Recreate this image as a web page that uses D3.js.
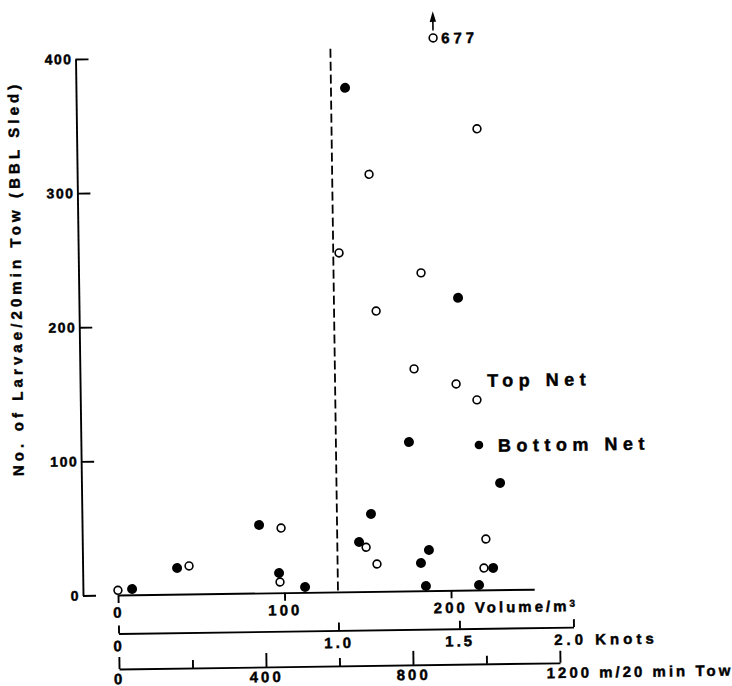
<!DOCTYPE html>
<html><head><meta charset="utf-8">
<script src="https://cdn.jsdelivr.net/npm/d3@7"></script>
<style>
html,body{margin:0;padding:0;background:#fff;}
svg{display:block;}
text{font-family:"Liberation Sans",Arial,Helvetica,sans-serif;font-weight:bold;fill:#000;stroke:#000;stroke-width:0.45px;}
</style></head><body>
<svg id="chart" width="732" height="686"></svg>
<script>
// ---- data ----
const larvaeTicks = [0, 100, 200, 300, 400];
const volumeTicks = [0, 100, 200];
const knotTicks = [0, 1.0, 1.5, 2.0];
const distanceTicks = [0, 200, 400, 600, 800, 1000, 1200];
const distanceLabelled = [0, 400, 800, 1200];
const topNetVolume = [0, 42.9, 98.5, 97.4, 135.6, 154.3, 157.4, 149.4, 155.8, 184.7, 179.7, 204.8, 217.2, 219.5, 221.4, 220];
const topNetLarvae = [3.5, 20.9, 48.2, 8, 252.7, 311, 209, 33, 20.4, 237, 165.5, 153.8, 141.7, 343.8, 37.9, 16.3];
const bottomNetVolume = [8.5, 35.7, 85.3, 96.9, 112.4, 140.6, 152.6, 145.2, 176, 206.7, 230.4, 187.1, 182.2, 185, 216.9, 225.5];
const bottomNetLarvae = [4.3, 19.5, 50.7, 14.7, 4, 375.7, 57.8, 37, 111, 218, 79.6, 30.3, 20.7, 3.5, 3.7, 16.3];
const offScaleVolume = [193.9];
const offScaleLarvae = [677];
const offScaleShownAt = 412;
const thresholdKnots = 1.0;
const legendLabels = ["Top Net", "Bottom Net"];
const yTitle = "No. of Larvae/20min Tow (BBL Sled)";

// ---- layout ----
const svg = d3.select("#chart");
const g = svg.append("g").attr("transform", "rotate(-0.8,118,595)");

const y = d3.scaleLinear().domain([0, 400]).range([595, 58.5]);
const x = d3.scaleLinear().domain([0, 250]).range([118, 534.25]);
const kn = d3.scaleLinear().domain([0, 1, 1.5, 2]).range([118, 338, 459, 573]);
const dist = d3.scaleLinear().domain([0, 1200]).range([118, 559]);

function styleAxis(sel, size, spacing) {
  sel.attr("font-family", null).attr("font-size", null);
  sel.selectAll("path.domain").attr("stroke", "#000").attr("stroke-width", 1.9);
  sel.selectAll(".tick line").attr("stroke", "#000").attr("stroke-width", 1.9);
  sel.selectAll(".tick text")
    .attr("fill", "#000")
    .style("font-size", size + "px")
    .style("letter-spacing", spacing + "px");
}

// y axis
const yAx = g.append("g").attr("transform", "translate(83,0)")
  .call(d3.axisLeft(y).tickValues(larvaeTicks).tickSize(-13).tickSizeOuter(0).tickPadding(3).tickFormat(d3.format("d")));
styleAxis(yAx, 14, 1.5);

// volume axis
const vAx = g.append("g").attr("transform", "translate(0,595)")
  .call(d3.axisBottom(x).tickValues(volumeTicks).tickSize(8).tickSizeOuter(0).tickPadding(4).tickFormat(d3.format("d")));
styleAxis(vAx, 15, 3);
vAx.selectAll(".tick text").filter(d => d === 200)
  .attr("text-anchor", "start").attr("x", -18)
  .text("200 Volume/m")
  .append("tspan").attr("dy", "-0.45em").style("font-size", "10px").text("3");

// knots axis
const kAx = g.append("g").attr("transform", "translate(0,633.5)")
  .call(d3.axisBottom(kn).tickValues(knotTicks).tickSize(-8).tickSizeOuter(0).tickPadding(7).tickFormat(d => d === 0 ? "0" : d3.format(".1f")(d)));
styleAxis(kAx, 15, 3);
kAx.selectAll(".tick text").filter(d => d === 2)
  .attr("text-anchor", "start").attr("x", -20).style("letter-spacing", "4px").text("2.0 Knots");

// distance axis
const dAx = g.append("g").attr("transform", "translate(0,669)")
  .call(d3.axisBottom(dist).tickValues(distanceTicks).tickSize(-8).tickSizeOuter(0).tickPadding(4.5)
    .tickFormat(d => distanceLabelled.includes(d) ? String(d) : ""));
styleAxis(dAx, 15, 3);
dAx.selectAll(".tick line").attr("y2", d => (d === 400 || d === 800) ? -14 : (d === 0 || d === 1200) ? -12 : -8);
dAx.selectAll(".tick text").filter(d => d === 1200)
  .attr("text-anchor", "start").attr("x", -14).text("1200 m/20 min Tow");

// y title
g.append("text")
  .attr("transform", "translate(25.5,277) rotate(-90)")
  .attr("text-anchor", "middle")
  .style("font-size", "15px")
  .style("letter-spacing", "4.1px")
  .text(yTitle);

// dashed threshold line at 1.0 knot
g.append("line")
  .attr("x1", kn(thresholdKnots)).attr("x2", kn(thresholdKnots))
  .attr("y1", y(1)).attr("y2", y(405))
  .attr("stroke", "#000").attr("stroke-width", 1.8).attr("stroke-dasharray", "9,4");

// bottom net (filled)
g.append("g").selectAll("circle")
  .data(d3.zip(bottomNetVolume, bottomNetLarvae))
  .join("circle")
  .attr("cx", d => x(d[0])).attr("cy", d => y(d[1]))
  .attr("r", 5).attr("fill", "#000");

// top net (open)
g.append("g").selectAll("circle")
  .data(d3.zip(topNetVolume, topNetLarvae))
  .join("circle")
  .attr("cx", d => x(d[0])).attr("cy", d => y(d[1]))
  .attr("r", 3.9).attr("fill", "#fff").attr("stroke", "#000").attr("stroke-width", 1.6);

// off-scale point
const off = g.append("g");
off.selectAll("circle").data(d3.zip(offScaleVolume, offScaleLarvae)).join("circle")
  .attr("cx", d => x(d[0])).attr("cy", y(offScaleShownAt))
  .attr("r", 3.9).attr("fill", "#fff").attr("stroke", "#000").attr("stroke-width", 1.6);
off.selectAll("line").data(offScaleVolume).join("line")
  .attr("x1", d => x(d)).attr("x2", d => x(d))
  .attr("y1", y(offScaleShownAt + 5.5)).attr("y2", y(offScaleShownAt + 15))
  .attr("stroke", "#000").attr("stroke-width", 1.6);
off.selectAll("path").data(offScaleVolume).join("path")
  .attr("d", d => `M${x(d) - 3.2},${y(offScaleShownAt + 12)} L${x(d)},${y(offScaleShownAt + 20)} L${x(d) + 3.2},${y(offScaleShownAt + 12)} Z`)
  .attr("fill", "#000");
off.selectAll("text").data(d3.zip(offScaleVolume, offScaleLarvae)).join("text")
  .attr("x", d => x(d[0]) + 8).attr("y", y(offScaleShownAt) + 5.5)
  .style("font-size", "15px").style("letter-spacing", "4px")
  .text(d => d[1]);

// legend
g.append("text").attr("x", 490).attr("y", 392)
  .style("font-size", "18px").style("letter-spacing", "5.5px").text(legendLabels[0]);
g.append("circle").attr("cx", 481).attr("cy", 450).attr("r", 4.3).attr("fill", "#000");
g.append("text").attr("x", 500).attr("y", 457)
  .style("font-size", "18px").style("letter-spacing", "5.5px").text(legendLabels[1]);
</script>
</body></html>
